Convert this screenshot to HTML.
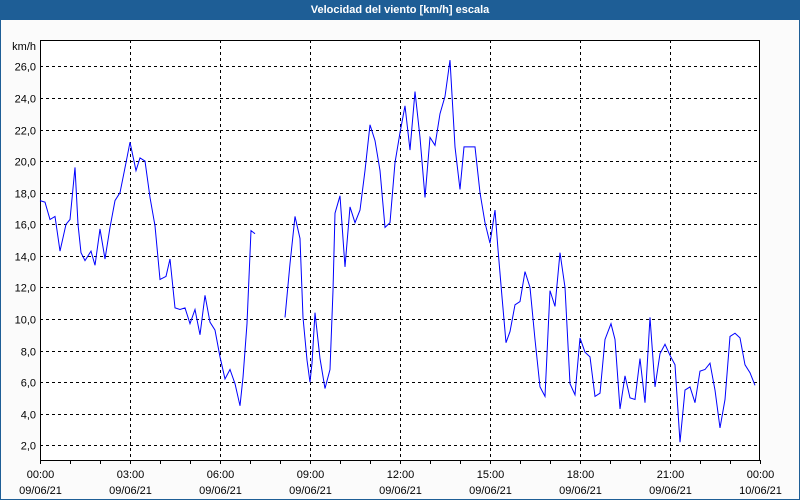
<!DOCTYPE html>
<html><head><meta charset="utf-8">
<style>
html,body{margin:0;padding:0;}
body{width:800px;height:500px;overflow:hidden;background:#fbfbfb;font-family:"Liberation Sans",sans-serif;}
#frame{position:absolute;left:0;top:0;width:798px;height:498px;border:1px solid #1e5e96;}
#title{position:absolute;left:0;top:0;width:800px;height:20px;background:#1e5e96;color:#fff;font-weight:bold;font-size:11px;line-height:20px;text-align:center;}
svg{position:absolute;left:0;top:0;}
</style></head>
<body>
<div id="frame"></div>
<div id="title">Velocidad del viento [km/h] escala</div>
<svg id="chart" width="800" height="500"></svg>
<script>
const minutes=[0,10,20,30,40,52,60,70,76,82,90,102,110,120,130,140,150,160,172,180,192,200,210,220,230,240,252,260,270,280,290,300,310,320,330,340,350,360,370,380,390,400,406,414,422,430,
null,
490,500,510,520,526,534,540,544,550,560,570,580,586,590,600,610,620,630,640,650,660,670,680,690,700,710,720,730,740,750,760,770,780,790,800,810,820,830,840,848,860,870,880,890,900,910,916,924,932,940,950,960,970,980,990,1000,1010,1020,1030,1040,1050,1060,1070,1080,1090,1100,1110,1120,1130,1142,1150,1160,1170,1180,1190,1200,1210,1220,1230,1240,1250,1260,1270,1280,1290,1300,1310,1320,1330,1340,1350,1360,1370,1380,1390,1400,1410,1420,1430];
const speeds=[17.5,17.4,16.3,16.5,14.3,16.0,16.3,19.6,16.0,14.2,13.7,14.3,13.4,15.7,13.8,15.8,17.5,18.0,19.9,21.2,19.4,20.2,20.0,17.7,15.9,12.5,12.7,13.8,10.7,10.6,10.7,9.7,10.6,9.0,11.5,9.8,9.3,7.6,6.2,6.8,5.9,4.5,6.3,9.7,15.6,15.4,
null,
10.1,13.5,16.5,15.1,10.1,7.4,6.0,7.2,10.4,7.5,5.6,6.8,11.8,16.7,17.8,13.3,17.1,16.1,16.9,19.4,22.3,21.3,19.4,15.8,16.1,19.9,21.8,23.5,20.7,24.4,21.5,17.7,21.5,21.0,23.0,24.1,26.4,20.9,18.2,20.9,20.9,20.9,18.0,16.1,14.8,16.9,14.4,11.4,8.5,9.2,10.9,11.1,13.0,12.0,8.7,5.7,5.1,11.8,10.8,14.2,12.0,5.9,5.2,8.8,7.9,7.6,5.1,5.3,8.7,9.7,8.7,4.3,6.4,5.0,4.9,7.5,4.7,10.1,5.7,7.8,8.4,7.7,7.1,2.2,5.5,5.7,4.7,6.7,6.8,7.2,5.5,3.1,4.9,8.9,9.1,8.8,7.1,6.6,5.8];
const yTicks=[2,4,6,8,10,12,14,16,18,20,22,24,26];
const xTickHours=[0,3,6,9,12,15,18,21,24];
const xTimeLabels=["00:00","03:00","06:00","09:00","12:00","15:00","18:00","21:00","00:00"];
const xDateLabels=["09/06/21","09/06/21","09/06/21","09/06/21","09/06/21","09/06/21","09/06/21","09/06/21","10/06/21"];

const L=40,R=760,T=40,B=460;
const yMin=1.07,yMax=27.67;
const xs=m=>L+(m/1440)*(R-L);
const ys=v=>B-(v-yMin)/(yMax-yMin)*(B-T);
const NS="http://www.w3.org/2000/svg";
const svg=document.getElementById('chart');
function mk(tag,attrs){const e=document.createElementNS(NS,tag);for(const k in attrs)e.setAttribute(k,attrs[k]);svg.appendChild(e);return e;}

mk('rect',{x:L,y:T,width:R-L,height:B-T,fill:'#ffffff'});
yTicks.forEach(v=>{
  const y=Math.round(ys(v))+0.5;
  const g=mk('line',{x1:L,x2:R,y1:y,y2:y,stroke:'#000','stroke-width':1,'stroke-dasharray':'3,3'});
  
  
  const t=mk('text',{x:L-4,y:y+4,'text-anchor':'end','font-size':11,fill:'#000'});
  t.textContent=v.toFixed(1).replace('.',',');
  
  
});
const ut=mk('text',{x:L-4,y:T+10,'text-anchor':'end','font-size':11,fill:'#000'});
ut.textContent='km/h';


for(let h=0;h<=24;h++){
  const x=Math.round(xs(h*60))+0.5;
  const tk=mk('line',{x1:x,x2:x,y1:B,y2:B+4,stroke:'#000','stroke-width':1});
  
  
}
xTickHours.forEach((h,i)=>{
  const x=Math.round(xs(h*60))+0.5;
  if(h>0&&h<24){
    const g=mk('line',{x1:x,x2:x,y1:T,y2:B,stroke:'#000','stroke-width':1,'stroke-dasharray':'3,3'});
    
    
  }
  const t1=mk('text',{x:x,y:478,'text-anchor':'middle','font-size':11,fill:'#000'});
  t1.textContent=xTimeLabels[i];
  
  
  const t2=mk('text',{x:x,y:494,'text-anchor':'middle','font-size':11,fill:'#000'});
  t2.textContent=xDateLabels[i];
  
  
});
const box=mk('rect',{x:L+0.5,y:T+0.5,width:R-L-1,height:B-T,fill:'none',stroke:'#000','stroke-width':1});



let d='',pen=false;
for(let i=0;i<minutes.length;i++){
  if(minutes[i]===null||speeds[i]===null){pen=false;continue;}
  d+=(pen?'L':'M')+xs(minutes[i]).toFixed(1)+','+ys(speeds[i]).toFixed(1);
  pen=true;
}
const line=mk('path',{d:d,fill:'none',stroke:'#0000ff','stroke-width':1});


</script>
</body></html>
